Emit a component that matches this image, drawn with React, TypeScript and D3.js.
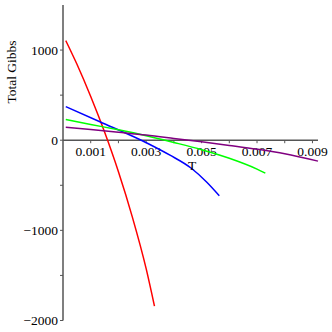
import React, { useEffect, useRef } from 'react'
import * as d3 from 'd3'

// temperature samples (T) and total Gibbs values
const redT = [0.0001, 0.0005, 0.001, 0.0015, 0.002, 0.0025, 0.003, 0.0033]
const redG = [1105, 845, 485, 90, -350, -850, -1425, -1840]

const blueT = [0.0001, 0.00133, 0.00308, 0.00386, 0.00464, 0.00518, 0.00564]
const blueG = [372, 205, -39, -166, -314, -463, -616]

const greenT = [0.0001, 0.001, 0.002, 0.003, 0.004, 0.005, 0.006, 0.007, 0.0073]
const greenG = [230, 175, 115, 50, -25, -105, -200, -320, -365]

const purpleT = [0.0001, 0.001, 0.002, 0.003, 0.004, 0.005, 0.006, 0.007, 0.008, 0.0092]
const purpleG = [144, 118, 88, 57, 20, -18, -58, -100, -150, -232]

const xTicks = [0.001, 0.002, 0.003, 0.004, 0.005, 0.006, 0.007, 0.008, 0.009]
const xLabels = ['0.001', '', '0.003', '', '0.005', '', '0.007', '', '0.009']
const yTicks = [-2000, -1500, -1000, -500, 0, 500, 1000]
const yLabels = ['\u22122000', '', '\u22121000', '', '0', '', '1000']

const series = [
    { t: redT, g: redG, color: '#ff0000' },
    { t: blueT, g: blueG, color: '#0000ff' },
    { t: greenT, g: greenG, color: '#00ff00' },
    { t: purpleT, g: purpleG, color: '#800080' },
]

const W = 332
const H = 332
const FONT = '"Liberation Serif", "Times New Roman", Times, serif'

function Chart() {
    const ref = useRef<SVGSVGElement>(null)

    useEffect(() => {
        const svg = d3.select(ref.current)
        svg.selectAll('*').remove()

        const x = d3.scaleLinear().domain([0, 0.0092]).range([63, 318])
        const y = d3.scaleLinear().domain([-2000, 1500]).range([320.5, 5])

        const axisColor = '#555'

        const label = (sel: any) => sel
            .attr('font-family', FONT)
            .attr('font-size', 13.5)
            .attr('fill', '#000')

        // y axis
        svg.append('line')
            .attr('x1', x(0)).attr('x2', x(0))
            .attr('y1', y(-2000)).attr('y2', y(1500))
            .attr('stroke', axisColor).attr('stroke-width', 1.5)

        yTicks.forEach((v, i) => {
            svg.append('line')
                .attr('x1', x(0) - 3).attr('x2', x(0))
                .attr('y1', y(v)).attr('y2', y(v))
                .attr('stroke', axisColor).attr('stroke-width', 1)
            if (yLabels[i]) {
                svg.append('text')
                    .attr('x', x(0) - 5)
                    .attr('y', y(v))
                    .attr('dy', '0.35em')
                    .attr('text-anchor', 'end')
                    .call(label)
                    .text(yLabels[i])
            }
        })

        // x axis along G = 0
        svg.append('line')
            .attr('x1', x(0)).attr('x2', x(0.0092))
            .attr('y1', y(0)).attr('y2', y(0))
            .attr('stroke', axisColor).attr('stroke-width', 1.5)

        xTicks.forEach((v, i) => {
            svg.append('line')
                .attr('x1', x(v)).attr('x2', x(v))
                .attr('y1', y(0)).attr('y2', y(0) + 3)
                .attr('stroke', axisColor).attr('stroke-width', 1)
            if (xLabels[i]) {
                svg.append('text')
                    .attr('x', x(v))
                    .attr('y', y(0) + 16)
                    .attr('text-anchor', 'middle')
                    .call(label)
                    .text(xLabels[i])
            }
        })

        const line = d3.line<[number, number]>()
            .x(d => x(d[0]))
            .y(d => y(d[1]))
            .curve(d3.curveMonotoneX)

        series.forEach(s => {
            svg.append('path')
                .datum(s.t.map((t, i) => [t, s.g[i]] as [number, number]))
                .attr('fill', 'none')
                .attr('stroke', s.color)
                .attr('stroke-width', 1.5)
                .attr('d', line)
        })

        // axis titles
        svg.append('text')
            .attr('x', 192)
            .attr('y', 170)
            .attr('text-anchor', 'middle')
            .call(label)
            .text('T')

        svg.append('text')
            .attr('transform', 'translate(16,72) rotate(-90)')
            .attr('text-anchor', 'middle')
            .call(label)
            .text('Total Gibbs')
    }, [])

    return <svg ref={ref} width={W} height={H} style={{ position: 'absolute', left: 0, top: 0, background: '#fff' }} />
}

export default function App() {
    return <Chart />
}
